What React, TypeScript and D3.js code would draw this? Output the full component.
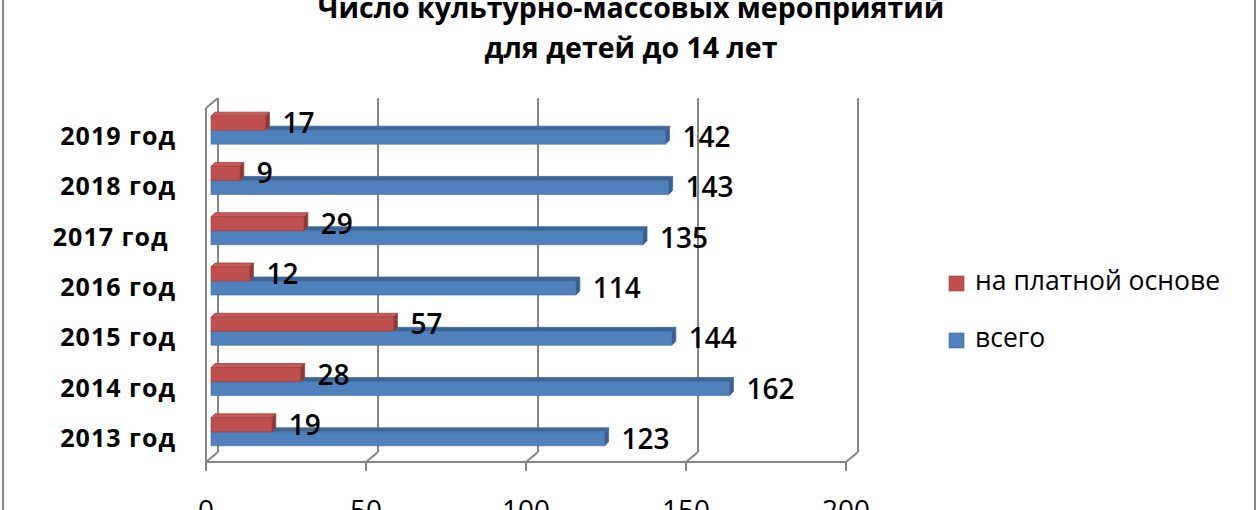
import React from "react";
import * as d3 from "d3";

const titleLines = ["Число культурно-массовых мероприятий", "для детей до 14 лет"];
const categories = ["2019 год", "2018 год", "2017 год ", "2016 год", "2015 год", "2014 год", "2013 год"];
const paidValues = [17, 9, 29, 12, 57, 28, 19];
const totalValues = [142, 143, 135, 114, 144, 162, 123];
const xTicks = [0, 50, 100, 150, 200];
const seriesNames = ["на платной основе", "всего"];

const W = 1260;
const H = 510;
const FONT = "'Open Sans', 'Noto Sans', sans-serif";
const GRID = "#868686";

const RED = { front: "#C0504D", top: "#C65B58", side: "#8C3A38", edge: "#9A403D" };
const BLUE = { front: "#4F81BD", top: "#3D6697", side: "#385F8D", edge: "#41699A" };

export default function App() {
  // back wall scale
  const xBack = d3.scaleLinear().domain([0, 200]).range([218, 858]);
  const frontDx = -12;
  const barDx = -7;
  const floorBackY = 452;
  const floorFrontY = 462;
  const wallTopBack = 98;
  const wallTopFront = 108;

  const y = d3.scaleBand<string>().domain(categories).range([105, 457]).padding(0);
  const barH = 14;
  const d = 4; // bar depth offset

  const bar = (v: number, top: number, c: typeof RED, key: string) => {
    const x0 = xBack(0) + barDx;
    const x1 = xBack(v) + barDx;
    const frontPath = `M${x0},${top}H${x1}V${top + barH}H${x0}Z`;
    const topPath = `M${x0},${top}L${x0 + d},${top - d}H${x1 + d}L${x1},${top}Z`;
    const sidePath = `M${x1},${top}L${x1 + d},${top - d}V${top + barH - d}L${x1},${top + barH}Z`;
    return (
      <g key={key}>
        <path d={topPath} fill={c.top} stroke={c.edge} strokeWidth={0.8} />
        <path d={sidePath} fill={c.side} stroke={c.edge} strokeWidth={0.8} />
        <path d={frontPath} fill={c.front} stroke={c.edge} strokeWidth={0.6} />
      </g>
    );
  };

  return (
    <div style={{ position: "absolute", left: 0, top: 0 }}>
      <svg width={W} height={H} style={{ display: "block", background: "#fff" }}>
        {/* outer border */}
        <line x1={3} y1={0} x2={3} y2={H} stroke={GRID} strokeWidth={2} />
        <line x1={1255} y1={0} x2={1255} y2={H} stroke={GRID} strokeWidth={2} />

        {/* title */}
        {titleLines.map((t, i) => (
          <text
            key={t}
            x={631}
            y={18 + i * 40}
            textAnchor="middle"
            fontFamily={FONT}
            fontWeight={700}
            fontSize={28.5}
            fill="#000"
          >
            {t}
          </text>
        ))}

        {/* back wall gridlines + floor connectors */}
        {xTicks.map((t) => (
          <g key={"g" + t} stroke={GRID} strokeWidth={2} fill="none">
            <line x1={xBack(t)} y1={wallTopBack} x2={xBack(t)} y2={floorBackY} />
            <line x1={xBack(t)} y1={floorBackY} x2={xBack(t) + frontDx} y2={floorFrontY} />
            <line x1={xBack(t) + frontDx} y1={floorFrontY} x2={xBack(t) + frontDx} y2={floorFrontY + 9} />
          </g>
        ))}
        {/* floor front edge */}
        <line
          x1={xBack(0) + frontDx}
          y1={floorFrontY}
          x2={xBack(200) + frontDx}
          y2={floorFrontY}
          stroke={GRID}
          strokeWidth={2}
        />
        {/* left wall */}
        <line x1={xBack(0) + frontDx} y1={wallTopFront} x2={xBack(0) + frontDx} y2={floorFrontY} stroke={GRID} strokeWidth={2} />
        <line x1={xBack(0) + frontDx} y1={wallTopFront} x2={xBack(0)} y2={wallTopBack} stroke={GRID} strokeWidth={2} />

        {/* x tick labels */}
        {xTicks.map((t) => (
          <text
            key={"t" + t}
            x={xBack(t) + frontDx}
            y={520}
            textAnchor="middle"
            fontFamily={FONT}
            fontSize={28}
            fill="#000"
          >
            {t}
          </text>
        ))}

        {/* bars */}
        {categories.map((cat, i) => {
          const c = (y(cat) as number) + y.bandwidth() / 2;
          return (
            <g key={cat}>
              {bar(totalValues[i], c, BLUE, "b")}
              {bar(paidValues[i], c - barH, RED, "r")}
            </g>
          );
        })}

        {/* data labels */}
        {categories.map((cat, i) => {
          const c = (y(cat) as number) + y.bandwidth() / 2;
          return (
            <g key={"l" + cat} fontFamily={FONT} fontSize={28} fontWeight={600} fill="#000">
              <text x={xBack(paidValues[i]) + barDx + d + 13} y={c - barH / 2 + 10}>
                {paidValues[i]}
              </text>
              <text x={xBack(totalValues[i]) + barDx + d + 13} y={c + barH / 2 + 10}>
                {totalValues[i]}
              </text>
            </g>
          );
        })}

        {/* category labels */}
        {categories.map((cat) => {
          const c = (y(cat) as number) + y.bandwidth() / 2;
          return (
            <text
              key={"c" + cat}
              x={176}
              y={c + 15}
              textAnchor="end"
              fontFamily={FONT}
              fontWeight={700}
              fontSize={25}
              letterSpacing={1}
              fill="#000"
              style={{ whiteSpace: "pre" }}
            >
              {cat}
            </text>
          );
        })}

        {/* legend */}
        {seriesNames.map((s, i) => (
          <g key={s}>
            <rect
              x={949}
              y={276 + i * 57}
              width={15}
              height={15}
              fill={i === 0 ? RED.front : BLUE.front}
              stroke={i === 0 ? RED.edge : BLUE.edge}
              strokeWidth={0.6}
            />
            <text x={975} y={290 + i * 57} fontFamily={FONT} fontSize={26.5} fill="#000">
              {s}
            </text>
          </g>
        ))}
      </svg>
    </div>
  );
}
